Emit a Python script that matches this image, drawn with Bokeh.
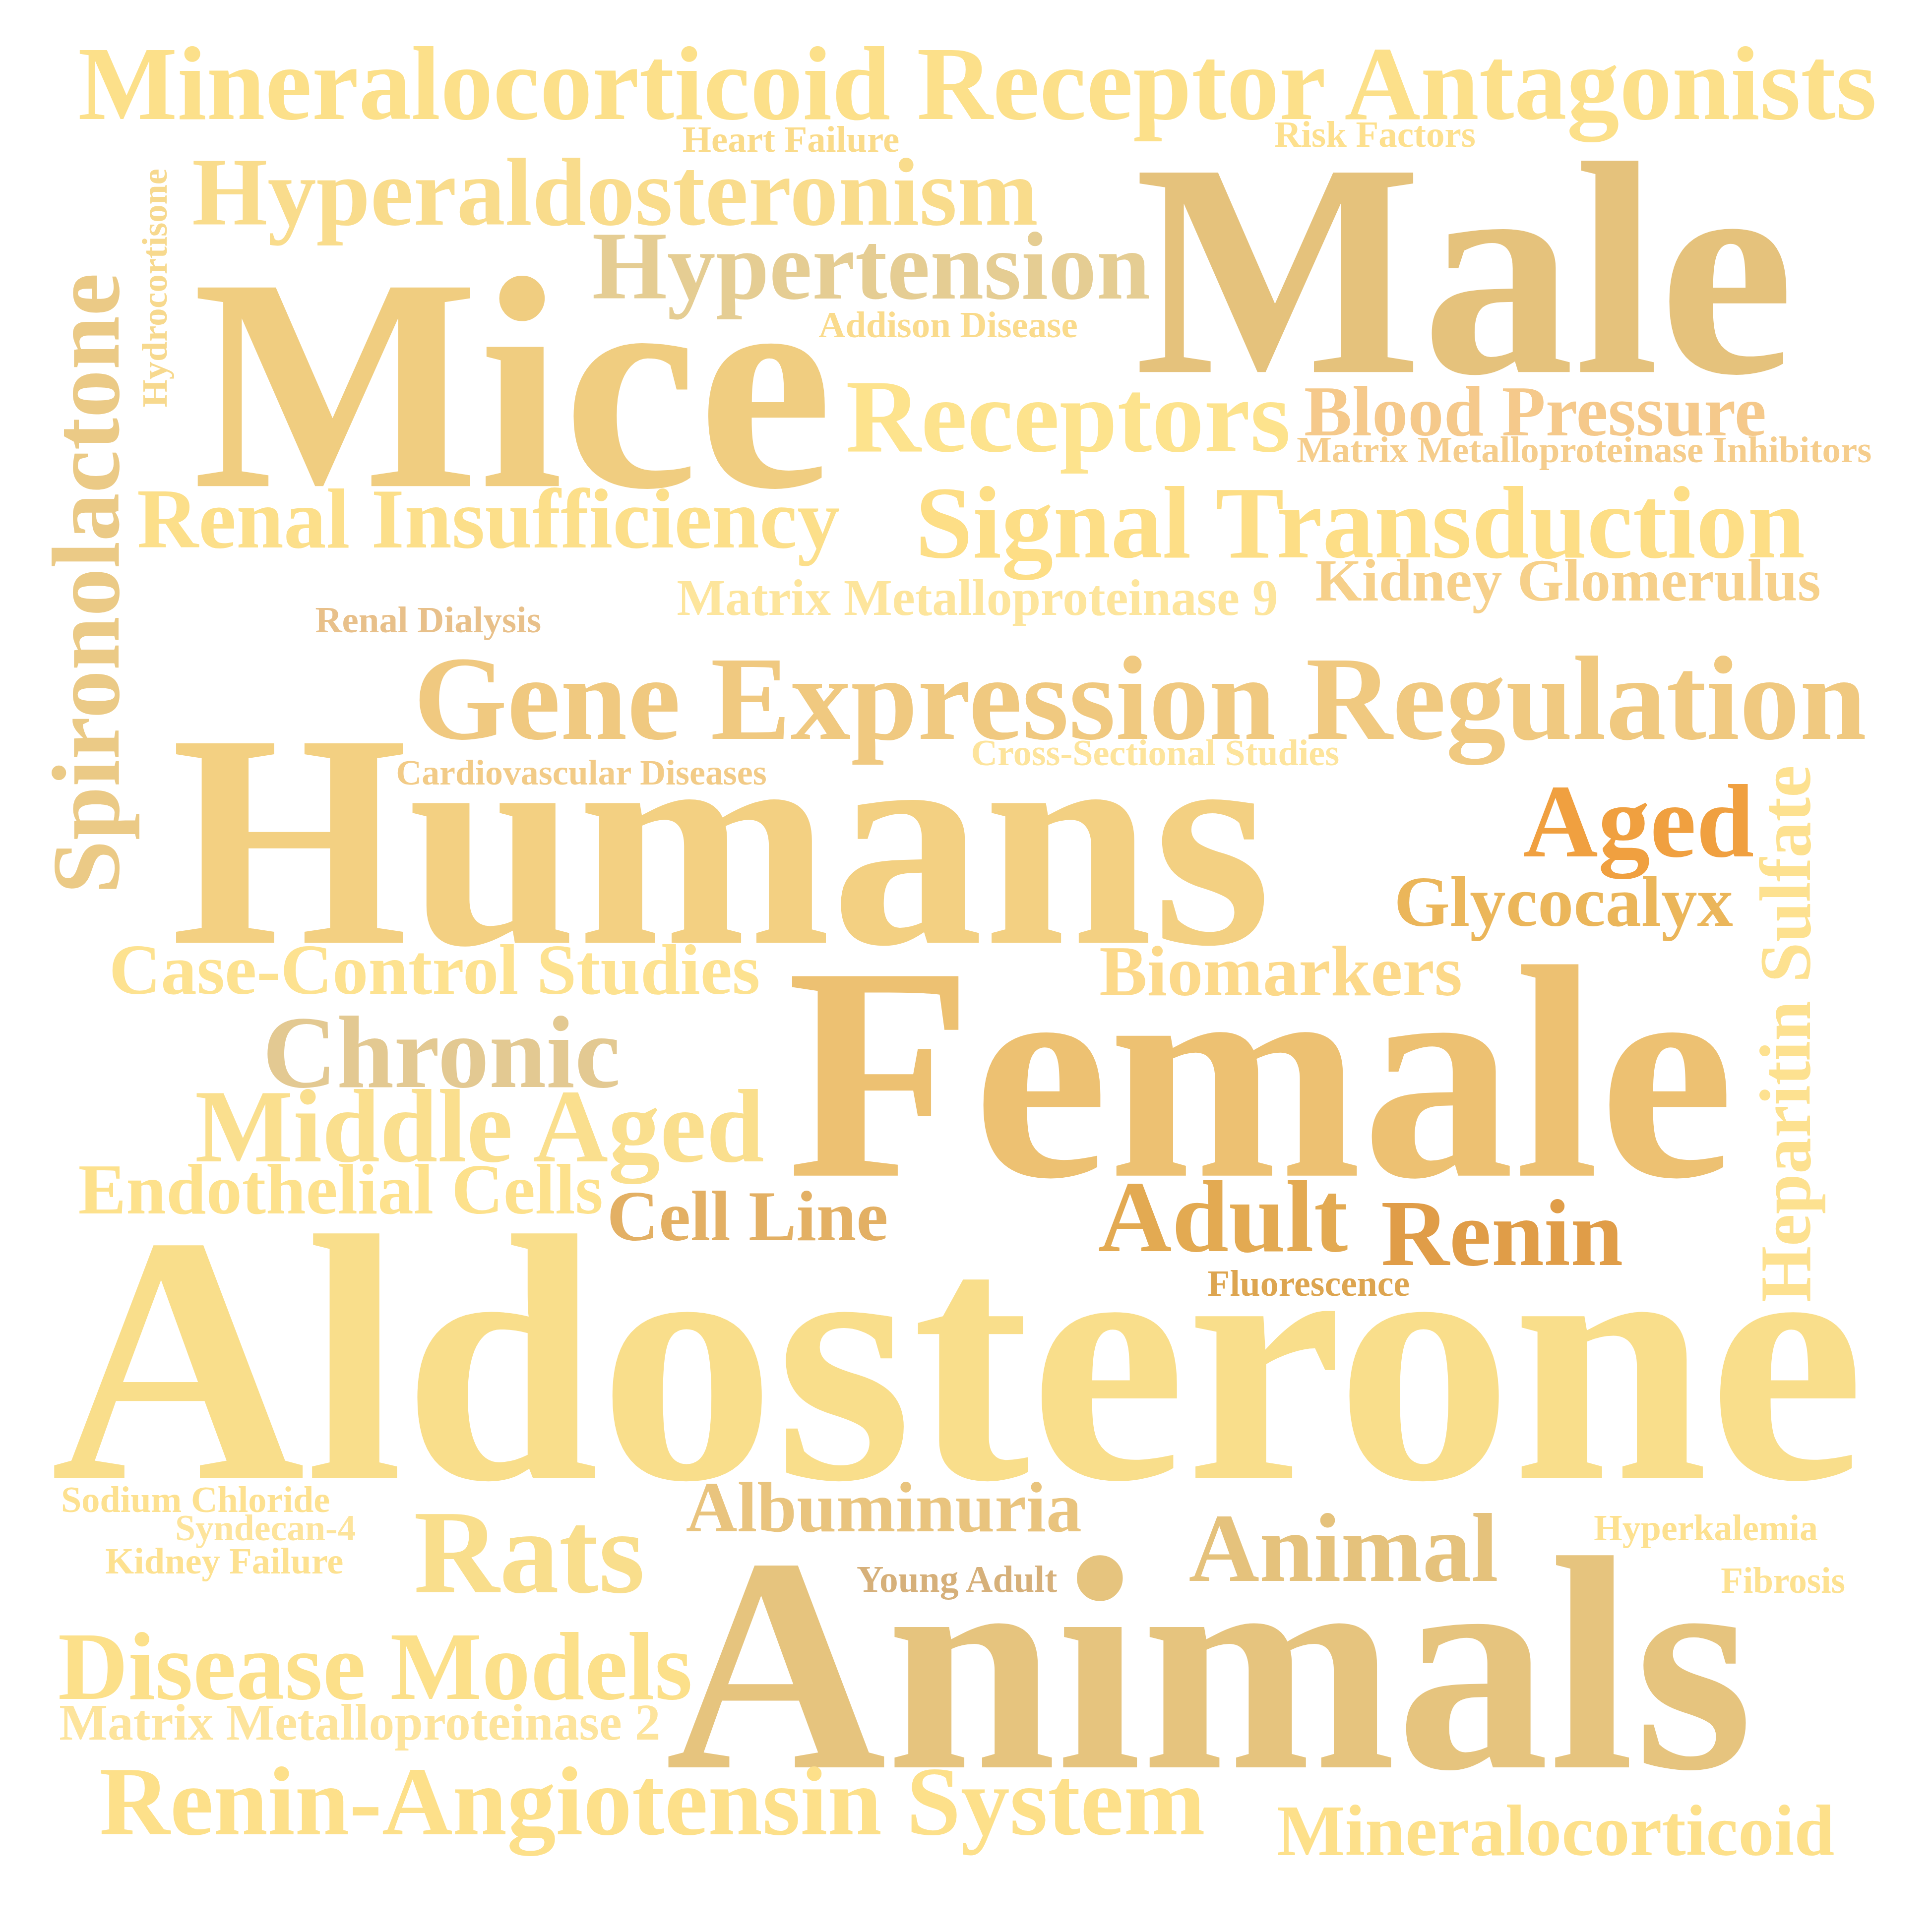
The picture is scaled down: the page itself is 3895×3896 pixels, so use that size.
import math
from bokeh.plotting import figure
from bokeh.models import ColumnDataSource, Range1d
from bokeh.core.properties import value
from bokeh.embed import file_html
from bokeh.resources import INLINE

# ---- data: words and their weights (relative size) ----
words = [
    "Mineralocorticoid Receptor Antagonists", "Heart Failure", "Risk Factors",
    "Hyperaldosteronism", "Hydrocortisone", "Spironolactone", "Hypertension",
    "Mice", "Male", "Addison Disease", "Receptors", "Blood Pressure",
    "Matrix Metalloproteinase Inhibitors", "Renal Insufficiency",
    "Signal Transduction", "Kidney Glomerulus", "Matrix Metalloproteinase 9",
    "Renal Dialysis", "Gene Expression Regulation", "Cardiovascular Diseases",
    "Cross-Sectional Studies", "Humans", "Aged", "Glycocalyx",
    "Heparitin Sulfate", "Biomarkers", "Case-Control Studies", "Female",
    "Chronic", "Middle Aged", "Endothelial Cells", "Cell Line", "Adult",
    "Renin", "Fluorescence", "Aldosterone", "Sodium Chloride", "Syndecan-4",
    "Kidney Failure", "Rats", "Albuminuria", "Young Adult", "Animal",
    "Hyperkalemia", "Fibrosis", "Animals", "Disease Models",
    "Matrix Metalloproteinase 2", "Renin-Angiotensin System", "Mineralocorticoid",
]
weights = [
    85, 30, 30,
    78.5, 29, 78, 78,
    245, 246, 30, 84, 58,
    30, 68.8,
    83.5, 48.5, 41.5,
    30, 97, 28.8,
    29.7, 246, 84, 58,
    58.5, 58, 58, 246,
    83, 84, 58, 58, 82.5,
    76.5, 29.5, 284.5, 29.7, 29.5,
    29.8, 96, 57.5, 30.2, 79,
    29.6, 29.3, 247, 78.5,
    41.5, 79, 58.3,
]

# ---- layout (reference grid 1560 x 1560): left x, baseline y, rotation ----
pos_x = [
    66, 554, 1032,
    158, 137.5, 98.6, 481,
    158.5, 919, 664, 686, 1056,
    1050, 113.5,
    742, 1065, 549.5,
    257.5, 337, 322.7,
    787, 141, 1232.7, 1128.6,
    1464.5, 890.6, 91, 638.4,
    215, 160.4, 66.2, 493, 889.6,
    1118, 978, 44, 52.3, 144.4,
    88, 337, 556.8, 694.7, 962.8,
    1290, 1392.5, 540.3, 49.8,
    50.8, 83.2, 1034,
]
pos_y = [
    99, 125.5, 121.5,
    184, 332, 725, 244,
    395, 303, 275, 367, 354.6,
    376, 445,
    453, 488, 499.7,
    513.5, 599.3, 636.5,
    621, 764, 694.2, 750.7,
    1055, 806.8, 805.5, 952,
    880.8, 940.6, 983, 1004.6, 1013.5,
    1024.6, 1049.5, 1196, 1224, 1247,
    1273.7, 1288.6, 1239.5, 1288.6, 1279.7,
    1247, 1289.6, 1429.7, 1375,
    1408, 1484.5, 1501,
]
rot_deg = [0] * len(words)
for w in ("Hydrocortisone", "Spironolactone", "Heparitin Sulfate"):
    rot_deg[words.index(w)] = 90

colors = [
    "#FCE08A", "#FADB8A", "#FDE08E",
    "#F9DC8C", "#F7D98E", "#EBCA86", "#E5CD93",
    "#F0CD80", "#E5C27C", "#FADB8C", "#FDE38D", "#F5C98B",
    "#F5CD8C", "#FCDF8A",
    "#FDDE86", "#F6D08A", "#FDE59C",
    "#E8C08A", "#F0C980", "#F2CB87",
    "#FDE49C", "#F3D082", "#F0A040", "#EBB65A",
    "#FDE190", "#FCD98A", "#FDE290", "#EDC172",
    "#E3C992", "#FADF8E", "#FDE18C", "#E3B064", "#E3AA52",
    "#E09D48", "#DDA550", "#F9DE8B", "#FDE190", "#FDE49C",
    "#FDE190", "#F9DE8C", "#E9C47E", "#D6B07A", "#E5C27C",
    "#FDE190", "#FDE190", "#E6C47E", "#FCE08A",
    "#FDE49C", "#FDE08A", "#FDE08A",
]

S = 3895 / 1560.0   # reference grid -> screen pixels
K = 0.335           # renderer's baseline offset, in em

xs, ys, angs, sizes = [], [], [], []
for px, py, w, a in zip(pos_x, pos_y, weights, rot_deg):
    t = math.radians(a)
    em = w * S
    xs.append(px * S - K * em * math.sin(t))
    ys.append(py * S - K * em * math.cos(t))
    angs.append(t)
    sizes.append("%.1fpx" % em)

src = ColumnDataSource(dict(x=xs, y=ys, text=words, size=sizes,
                            angle=angs, color=colors))

W, H = 3879, 3880
p = figure(width=W, height=H, output_backend="svg", toolbar_location=None,
           x_range=Range1d(8, 8 + W), y_range=Range1d(8 + H, 8),
           min_border=0)
p.axis.visible = False
p.grid.visible = False
p.outline_line_color = None
p.background_fill_color = "white"

p.text(x="x", y="y", text="text", source=src, text_font=value("Liberation Serif"),
       text_font_style="bold", text_font_size="size", angle="angle",
       text_color="color", text_align="left", text_baseline="alphabetic")

open("out.html", "w").write(file_html(p, INLINE))
